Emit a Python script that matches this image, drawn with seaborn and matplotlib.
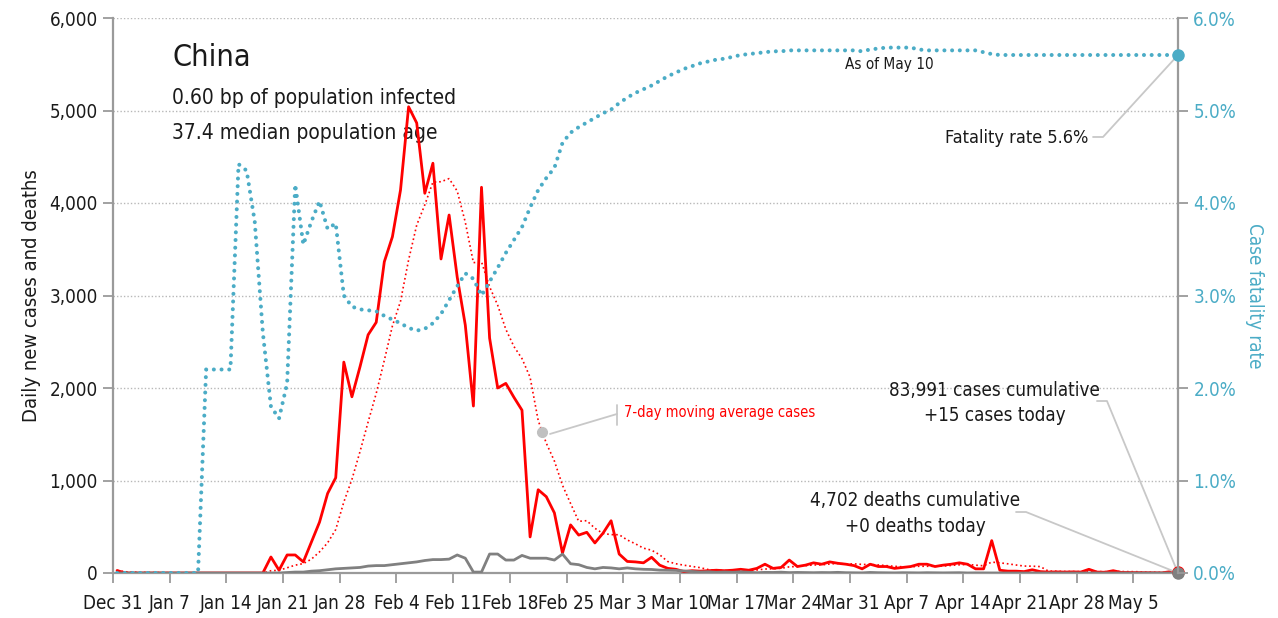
import matplotlib
matplotlib.use("Agg")
import matplotlib.pyplot as plt
import matplotlib.ticker as mticker
import numpy as np
import pandas as pd
import seaborn as sns

START = "2019-12-31"
END = "2020-05-10"

# Daily new cases, Dec 31 .. May 10
CASES = [27] + [0] * 18 + [
    173, 30, 195, 195, 120, 335, 550, 860, 1030, 2280,
    1905, 2230, 2575, 2710, 3365, 3635, 4140, 5040, 4865, 4105,
    4430, 3395, 3870, 3200, 2680, 1805, 4170, 2540, 2000, 2050,
    1900, 1760, 390, 900, 825, 650, 215, 520, 410, 440,
    325, 430, 565, 205, 125, 120, 110, 170, 85, 50,
    40, 15, 25, 20, 25, 30, 25, 30, 40, 30,
    50, 95, 50, 60, 140, 70, 85, 110, 95, 120,
    105, 95, 80, 45, 95, 70, 70, 50, 60, 70,
    95, 95, 70, 85, 95, 110, 95, 45, 45, 350,
    30, 20, 20, 15, 35, 15, 10, 12, 10, 12,
    10, 40, 10, 8, 25, 6, 5, 3, 4, 2,
    1, 14, 15,
]

# Daily new deaths
DEATHS = [0] * 21 + [
    5, 10, 10, 20, 25, 35, 45, 50, 55, 60,
    75, 80, 80, 90, 100, 110, 120, 135, 145, 145,
    150, 195, 160, 10, 10, 205, 205, 140, 140, 190,
    160, 160, 160, 140, 205, 100, 90, 60, 45, 60,
    55, 45, 55, 45, 40, 38, 31, 30, 28, 22,
    17, 11, 13, 8, 11, 8, 13, 8, 3, 7,
    6, 9, 4, 6, 5, 3, 5, 4, 7, 3,
    2, 1, 6, 3, 2, 1, 3, 2, 1, 3,
    2, 1, 2, 3, 0, 1, 0,
] + [0] * 24

# Case fatality rate, percent
FATALITY = [0] * 11 + [
    2.2, 2.2, 2.2, 2.2, 4.42, 4.35, 3.8, 2.6, 1.8, 1.67,
    2.05, 4.2, 3.55, 3.8, 4.02, 3.72, 3.78, 3.0, 2.88, 2.85,
    2.84, 2.83, 2.78, 2.74, 2.7, 2.65, 2.62, 2.64, 2.7, 2.8,
    2.95, 3.1, 3.24, 3.18, 3.0, 3.15, 3.3, 3.46, 3.6, 3.74,
    3.95, 4.14, 4.27, 4.38, 4.65, 4.76, 4.82, 4.87, 4.92, 4.97,
    5.01, 5.08, 5.14, 5.19, 5.23, 5.27, 5.32, 5.37, 5.41, 5.45,
    5.48, 5.51, 5.53, 5.55, 5.56, 5.58, 5.6, 5.61, 5.62, 5.63,
    5.64, 5.64,
] + [5.65] * 9 + [5.64, 5.66, 5.67] + [5.68] * 4 + [5.66] + [5.65] * 7 + [
    5.63, 5.61] + [5.6] * 23

LEFT_TICKS = [0, 1000, 2000, 3000, 4000, 5000, 6000]
RIGHT_TICKS = [0, 1, 2, 3, 4, 5, 6]

RED = "#ff0000"
TEAL = "#4bacc6"
GREY = "#808080"
SPINE = "#9a9a9a"
TEXT = "#1a1a1a"
FONT = ["DejaVu Sans"]


def connector(ax, xs, ys):
    # thin grey leader line, given in axes fractions
    ax.plot(xs, ys, transform=ax.transAxes, color="#c8c8c8", lw=1.3,
            clip_on=False, zorder=6)


def main():
    sns.set_theme(style="white")
    plt.rcParams["font.family"] = FONT
    plt.rcParams["font.stretch"] = "condensed"

    dates = pd.date_range(START, END, freq="D")
    # figures are reported for the day, drawn at midday
    df = pd.DataFrame({"date": dates + pd.Timedelta(hours=12), "cases": CASES,
                       "deaths": DEATHS, "fatality": FATALITY})
    df["avg"] = df["cases"].rolling(7, min_periods=1).mean()

    fig = plt.figure(figsize=(12.78, 6.18), dpi=100)
    ax = fig.add_axes([113 / 1278, 1 - 573 / 618, 1065 / 1278, 555 / 618])
    ax2 = ax.twinx()

    sns.lineplot(data=df, x="date", y="avg", ax=ax, color=RED, lw=1.2,
                 linestyle=(0, (1, 1.7)), zorder=3)
    sns.lineplot(data=df, x="date", y="cases", ax=ax, color=RED, lw=2.0,
                 zorder=4)
    sns.lineplot(data=df, x="date", y="deaths", ax=ax, color=GREY, lw=2.0,
                 zorder=4)
    last = df.iloc[-1]
    ax.plot(last["date"], last["cases"], "o", color=RED, ms=8,
            clip_on=False, zorder=7)
    ax.plot(last["date"], last["deaths"], "o", color=GREY, ms=8,
            clip_on=False, zorder=8)

    sns.lineplot(data=df, x="date", y="fatality", ax=ax2, color=TEAL, lw=2.9,
                 linestyle=(0, (0.01, 1.9)), dash_capstyle="round", zorder=5)
    ax2.plot(last["date"], last["fatality"], "o", color=TEAL, ms=8,
             clip_on=False, zorder=8)
    ax2.set_zorder(ax.get_zorder() + 1)
    ax2.patch.set_visible(False)

    # marker on the moving average for the label leader
    mid = df["date"].iloc[52] + pd.Timedelta(hours=12)
    ax.plot(mid, df["avg"].iloc[52:54].mean(), "o", color="#c0c0c0", ms=7,
            zorder=6)

    ax.set_xlim(dates[0], last["date"])
    ax.set_ylim(0, 6000)
    ax2.set_ylim(0, 6)

    ticks = pd.date_range(START, "2020-05-05", freq="7D")
    ax.set_xticks(ticks)
    ax.set_xticklabels([f"{d:%b} {d.day}" for d in ticks])
    ax.set_yticks(LEFT_TICKS)
    ax.yaxis.set_major_formatter(mticker.FuncFormatter(lambda v, p: f"{v:,.0f}"))
    ax2.set_yticks(RIGHT_TICKS)
    ax2.yaxis.set_major_formatter(mticker.FuncFormatter(lambda v, p: f"{v:.1f}%"))

    for a in (ax, ax2):
        a.set_xlabel("")
        for s in a.spines.values():
            s.set_color(SPINE)
            s.set_linewidth(1.6)
        a.spines["top"].set_visible(False)
    ax.spines["right"].set_visible(False)
    ax2.spines["left"].set_visible(False)
    ax2.spines["bottom"].set_visible(False)

    ax.tick_params(axis="x", length=7, width=1.3, color=SPINE, pad=8,
                   labelsize=13.5, labelcolor=TEXT, bottom=True)
    ax.tick_params(axis="y", length=7, width=1.3, color=SPINE, pad=4,
                   labelsize=13.5, labelcolor=TEXT, left=True)
    ax2.tick_params(axis="y", length=7, width=1.3, color=SPINE, pad=4,
                    labelsize=13.5, labelcolor=TEAL, right=True)

    for v in LEFT_TICKS[1:]:
        ax.axhline(v, color="#b8b8b8", lw=1.0, linestyle=(0, (1, 1.5)),
                   zorder=1)

    ax.set_ylabel("Daily new cases and deaths", fontsize=14.5, color=TEXT,
                  labelpad=6)
    ax2.set_ylabel("Case fatality rate", fontsize=13.5, color=TEAL,
                   rotation=-90, labelpad=20)

    # header text
    ax.text(0.0554, 0.928, "China", transform=ax.transAxes, fontsize=22,
            color=TEXT, va="center")
    ax.text(0.0554, 0.856, "0.60 bp of population infected",
            transform=ax.transAxes, fontsize=15, color=TEXT, va="center")
    ax.text(0.0554, 0.793, "37.4 median population age",
            transform=ax.transAxes, fontsize=15, color=TEXT, va="center")

    ax.text(0.687, 0.917, "As of May 10", transform=ax.transAxes,
            fontsize=11, color=TEXT, va="center")

    ax.text(0.9155, 0.784, "Fatality rate 5.6%", transform=ax.transAxes,
            fontsize=13, color=TEXT, va="center", ha="right")
    connector(ax, [0.9202, 0.9296, 1.0], [0.7856, 0.7856, 0.9333])

    ax.text(0.4798, 0.2883, "7-day moving average cases",
            transform=ax.transAxes, fontsize=10.5, color=RED, va="center")
    connector(ax, [0.4103, 0.4732], [0.2505, 0.2865])
    connector(ax, [0.4732, 0.4732], [0.2667, 0.3027])

    ax.text(0.8277, 0.3297, "83,991 cases cumulative", transform=ax.transAxes,
            fontsize=13.5, color=TEXT, va="center", ha="center")
    ax.text(0.8277, 0.2829, "+15 cases today", transform=ax.transAxes,
            fontsize=13.5, color=TEXT, va="center", ha="center")
    connector(ax, [0.9239, 0.9333, 1.0], [0.3099, 0.3099, 0.0])

    ax.text(0.7530, 0.1315, "4,702 deaths cumulative", transform=ax.transAxes,
            fontsize=13.5, color=TEXT, va="center", ha="center")
    ax.text(0.7530, 0.0829, "+0 deaths today", transform=ax.transAxes,
            fontsize=13.5, color=TEXT, va="center", ha="center")
    connector(ax, [0.8479, 0.8573, 1.0], [0.1099, 0.1099, 0.0])

    fig.savefig("out.png", dpi=100)


if __name__ == "__main__":
    main()
